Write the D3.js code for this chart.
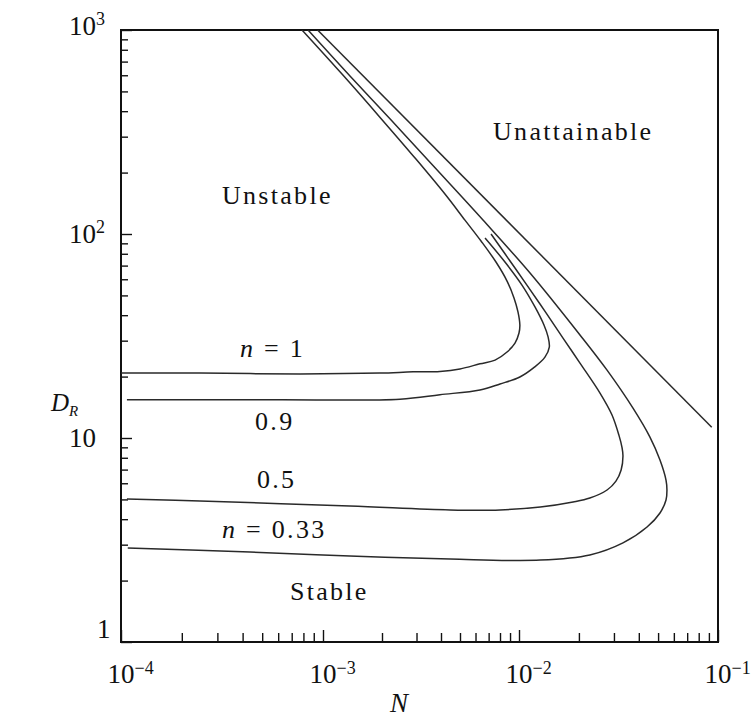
<!DOCTYPE html>
<html>
<head>
<meta charset="utf-8">
<script src="https://cdn.jsdelivr.net/npm/d3@7"></script>
<style>
body { margin: 0; background: #fff; }
svg text { font-family: "Liberation Serif", "Times New Roman", serif; fill: #111; }
</style>
</head>
<body>
<div id="chart"></div>
<script>
// boundaries, pairs of [N, D_R]
var curveN1 = [[1.0e-4, 20.8], [2.46e-4, 20.8], [7.7e-4, 20.6], [1.95e-3, 20.8], [2.88e-3, 21.1],
  [3.95e-3, 21.2], [5.0e-3, 21.8], [6.32e-3, 23.1], [7.55e-3, 24.1], [8.69e-3, 26.4], [9.54e-3, 29.2],
  [1.0e-2, 32.7], [1.01e-2, 35.8], [9.88e-3, 41.5], [9.43e-3, 48.6], [8.69e-3, 58.8], [7.63e-3, 72.9],
  [6.40e-3, 92.4], [5.30e-3, 117], [4.19e-3, 157], [2.98e-3, 233], [1.95e-3, 374], [1.25e-3, 608],
  [7.87e-4, 1000]];
var curveN09 = [[1.07e-4, 15.4], [2.46e-4, 15.4], [6.12e-4, 15.4], [2.47e-3, 15.5], [3.95e-3, 16.3],
  [6.32e-3, 17.2], [8.0e-3, 18.4], [1.01e-2, 19.9], [1.20e-2, 22.3], [1.35e-2, 24.9], [1.42e-2, 27.9],
  [1.40e-2, 31.3], [1.335e-2, 35.8], [1.203e-2, 43.9], [1.035e-2, 56.2], [8.48e-3, 72.9], [6.71e-3, 95.6]];
var curveN05 = [[1.07e-4, 5.02], [2.46e-4, 4.91], [1.37e-3, 4.64], [4.45e-3, 4.44], [8.0e-3, 4.44],
  [1.28e-2, 4.59], [1.87e-2, 4.86], [2.27e-2, 5.08], [2.77e-2, 5.56], [3.07e-2, 6.15], [3.26e-2, 6.97],
  [3.33e-2, 8.16], [3.29e-2, 9.03], [3.18e-2, 10.3], [2.93e-2, 13.0], [2.553e-2, 16.6], [2.025e-2, 23.3],
  [1.664e-2, 30.9], [1.275e-2, 45.4], [9.54e-3, 68.1], [7.20e-3, 100]];
var curveN033 = [[1.08e-4, 2.89], [4.35e-4, 2.76], [1.37e-3, 2.64], [4.45e-3, 2.55], [1.28e-2, 2.52],
  [2.27e-2, 2.67], [3.33e-2, 3.06], [4.40e-2, 3.66], [5.11e-2, 4.29], [5.48e-2, 4.97], [5.54e-2, 5.56],
  [5.48e-2, 6.22], [5.11e-2, 7.80], [4.55e-2, 10.1], [3.74e-2, 14.0], [2.77e-2, 21.5], [2.025e-2, 32.0],
  [1.136e-2, 64.4], [6.55e-3, 117], [3.73e-3, 211], [2.25e-3, 358], [1.373e-3, 595], [8.43e-4, 1000]];
// unattainable limit
var limitLine = [[9.4e-4, 1000], [9.3e-2, 11.3]];

var xDecades = [1e-4, 1e-3, 1e-2, 1e-1];
var xExps = [-4, -3, -2, -1];
var yDecades = [1, 10, 100, 1000];
var yExps = [0, 1, 2, 3];

var regionLabels = [
  {text: "Unstable", N: 3.16e-4, D: 140},
  {text: "Unattainable", N: 7.37e-3, D: 289},
  {text: "Stable", N: 6.86e-4, D: 1.61}
];
var curveLabels = [
  {italic: "n", text: " = 1", N: 3.88e-4, D: 24.9},
  {italic: "", text: "0.9", N: 4.61e-4, D: 10.9},
  {italic: "", text: "0.5", N: 4.71e-4, D: 5.69},
  {italic: "n", text: " = 0.33", N: 3.16e-4, D: 3.23}
];

var width = 754, height = 720;

var svg = d3.select("#chart").append("svg")
    .attr("width", width)
    .attr("height", height);

// the original axis decades are not quite even, so the log scale is piecewise
var x = d3.scaleLog().domain(xDecades).range([121, 323, 519, 718]);
var y = d3.scaleLog().domain([1, 1000]).range([642, 30]);

var x0 = x(1e-4), x1 = x(1e-1), y0 = y(1), y1 = y(1000);

svg.append("clipPath").attr("id", "plot-clip")
  .append("rect")
    .attr("x", x0).attr("y", y1)
    .attr("width", x1 - x0).attr("height", y0 - y1);

// minor + major ticks, drawn inward
var xMinor = [], yMinor = [];
xDecades.slice(0, 3).forEach(function(d) {
  for (var k = 2; k <= 9; k++) xMinor.push(k * d);
});
yDecades.slice(0, 3).forEach(function(d) {
  for (var k = 2; k <= 9; k++) yMinor.push(k * d);
});

function drawAxis(axis) {
  var g = svg.append("g").call(axis);
  g.select(".domain").remove();
  g.selectAll(".tick line").attr("stroke", "#111").attr("stroke-width", 1.4);
  return g;
}

drawAxis(d3.axisBottom(x).tickValues(xMinor).tickSize(-9).tickFormat(""))
  .attr("transform", "translate(0," + y0 + ")");
drawAxis(d3.axisBottom(x).tickValues(xDecades).tickSize(-12).tickFormat(""))
  .attr("transform", "translate(0," + y0 + ")");
drawAxis(d3.axisLeft(y).tickValues(yMinor).tickSize(-7).tickFormat(""))
  .attr("transform", "translate(" + x0 + ",0)");
drawAxis(d3.axisLeft(y).tickValues(yDecades).tickSize(-11).tickFormat(""))
  .attr("transform", "translate(" + x0 + ",0)");

// frame
svg.append("rect")
    .attr("x", x0).attr("y", y1)
    .attr("width", x1 - x0).attr("height", y0 - y1)
    .attr("fill", "none")
    .attr("stroke", "#111")
    .attr("stroke-width", 2);

// tick labels
var xLab = svg.append("g").selectAll("text")
  .data(xDecades)
  .join("text")
    .attr("x", function(d) { return x(d) - 13.5; })
    .attr("y", y0 + 41)
    .style("font-size", "27px");
xLab.append("tspan").text("10");
xLab.append("tspan")
    .attr("dy", -9)
    .style("font-size", "18px")
    .text(function(d, i) { return "\u2212" + Math.abs(xExps[i]); });

var yLab = svg.append("g").selectAll("text")
  .data(yDecades)
  .join("text")
    .attr("x", function(d, i) { return yExps[i] == 0 ? 97 : 69; })
    .attr("y", function(d, i) {
      if (yExps[i] == 0) return y(d) - 4;   // lifted clear of the x labels
      if (yExps[i] == 3) return y(d) + 5;
      return y(d) + 9;
    })
    .style("font-size", "27px");
yLab.append("tspan").text(function(d, i) { return yExps[i] == 0 ? "1" : "10"; });
yLab.filter(function(d, i) { return yExps[i] > 1; })
  .append("tspan")
    .attr("dy", -10)
    .style("font-size", "18px")
    .text(function(d) { return Math.round(Math.log10(d)); });

// axis titles
svg.append("text")
    .attr("x", 390).attr("y", y0 + 70)
    .style("font-size", "27px")
    .style("font-style", "italic")
    .text("N");
var dTitle = svg.append("text")
    .attr("x", 51).attr("y", 411)
    .style("font-size", "25px")
    .style("font-style", "italic");
dTitle.append("tspan").text("D");
dTitle.append("tspan").attr("dy", 5).style("font-size", "15px").text("R");

// curves
var line = d3.line()
    .x(function(d) { return x(d[0]); })
    .y(function(d) { return y(d[1]); })
    .curve(d3.curveCatmullRom.alpha(0.5));

svg.append("g")
    .attr("clip-path", "url(#plot-clip)")
  .selectAll("path")
  .data([curveN1, curveN09, curveN05, curveN033, limitLine])
  .join("path")
    .attr("d", line)
    .attr("fill", "none")
    .attr("stroke", "#2a2a2a")
    .attr("stroke-width", 1.5);

// annotations
svg.append("g").selectAll("text")
  .data(regionLabels)
  .join("text")
    .attr("x", function(d) { return x(d.N); })
    .attr("y", function(d) { return y(d.D); })
    .style("font-size", "26px")
    .style("letter-spacing", "2.3px")
    .text(function(d) { return d.text; });

var cl = svg.append("g").selectAll("text")
  .data(curveLabels)
  .join("text")
    .attr("x", function(d) { return x(d.N); })
    .attr("y", function(d) { return y(d.D); })
    .style("font-size", "26px")
    .style("letter-spacing", "2.3px");
cl.append("tspan").style("font-style", "italic").text(function(d) { return d.italic; });
cl.append("tspan").text(function(d) { return d.text; });
</script>
</body>
</html>
